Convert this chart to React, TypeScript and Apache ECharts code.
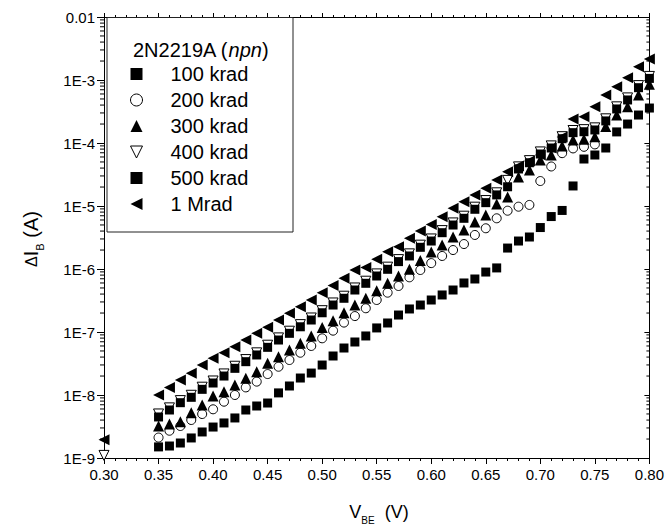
import React, { useEffect, useRef } from 'react';
import * as echarts from 'echarts';

// V_BE (V): first point 0.30, then 0.35 ... 0.80 in 0.01 steps
const vbe = [0.30, 0.35, 0.36, 0.37, 0.38, 0.39, 0.40, 0.41, 0.42, 0.43, 0.44, 0.45, 0.46, 0.47, 0.48, 0.49, 0.50, 0.51, 0.52, 0.53, 0.54, 0.55, 0.56, 0.57, 0.58, 0.59, 0.60, 0.61, 0.62, 0.63, 0.64, 0.65, 0.66, 0.67, 0.68, 0.69, 0.70, 0.71, 0.72, 0.73, 0.74, 0.75, 0.76, 0.77, 0.78, 0.79, 0.80];

const krad100 = [null,
  1.50e-9, 1.55e-9, 1.73e-9, 2.08e-9, 2.59e-9, 3.10e-9, 3.60e-9, 4.32e-9, 5.78e-9, 6.69e-9,
  7.46e-9, 1.08e-8, 1.39e-8, 1.86e-8, 2.23e-8, 2.99e-8, 4.16e-8, 5.57e-8, 6.94e-8, 8.65e-8,
  1.16e-7, 1.39e-7, 1.86e-7, 2.32e-7, 2.68e-7, 3.22e-7, 3.87e-7, 4.64e-7, 6.00e-7, 6.94e-7,
  8.95e-7, 1.04e-6, 2.15e-6, 2.78e-6, 3.22e-6, 4.55e-6, 6.8e-6, 8.5e-6, 2.08e-5, 5.57e-5,
  6.45e-5, 8.33e-5, 1.50e-4, 2.00e-4, 2.78e-4, 3.59e-4];

const krad200 = [null,
  2.11e-9, 2.71e-9, 3.22e-9, 4.01e-9, 4.99e-9, 5.93e-9, 7.83e-9, 1.0e-8, 1.32e-8, 1.63e-8,
  2.15e-8, 2.81e-8, 3.59e-8, 4.69e-8, 6.00e-8, 7.94e-8, 1.05e-7, 1.41e-7, 1.79e-7, 2.38e-7,
  3.22e-7, 4.21e-7, 5.37e-7, 7.38e-7, 9.64e-7, 1.24e-6, 1.61e-6, 2.00e-6, 2.49e-6, 3.47e-6,
  4.43e-6, 6.38e-6, 8.42e-6, 9.75e-6, 1.04e-5, 2.49e-5, 4.24e-5, 6.9e-5, 8.2e-5, 8.7e-5,
  9.5e-5, null, null, null, null, null];

const krad300 = [null,
  3.22e-9, 3.47e-9, 3.77e-9, 5.24e-9, 6.94e-9, 9.64e-9, 1.13e-8, 1.44e-8, 1.84e-8, 2.34e-8,
  3.18e-8, 4.06e-8, 5.18e-8, 6.62e-8, 8.65e-8, 1.18e-7, 1.51e-7, 2.02e-7, 2.68e-7, 3.43e-7,
  4.53e-7, 5.93e-7, 7.74e-7, 9.89e-7, 1.36e-6, 1.86e-6, 2.41e-6, 3.22e-6, 4.16e-6, 5.57e-6,
  7.20e-6, 1.08e-5, 1.39e-5, 2.89e-5, 3.73e-5, 5.37e-5, 6.45e-5, 8.96e-5, 1.12e-4, 1.15e-4,
  1.26e-4, 1.82e-4, 2.78e-4, 3.77e-4, 5.78e-4, 8.55e-4];

const krad400 = [1.1e-9,
  5.0e-9, 6.25e-9, 8.15e-9, 9.9e-9, 1.33e-8, 1.67e-8, 2.16e-8, 2.86e-8, 3.65e-8, 4.67e-8,
  6.17e-8, 8.06e-8, 1.03e-7, 1.31e-7, 1.67e-7, 2.18e-7, 2.89e-7, 3.7e-7, 5.0e-7, 6.4e-7,
  8.36e-7, 1.07e-6, 1.41e-6, 1.74e-6, 2.39e-6, 3.0e-6, 4.07e-6, 5.39e-6, 6.89e-6, 9.58e-6,
  1.22e-5, 1.62e-5, 2.55e-5, 4.18e-5, 5.25e-5, 7.22e-5, 9.0e-5, 1.26e-4, 1.58e-4, 1.63e-4,
  1.74e-4, 2.42e-4, 3.75e-4, 5.2e-4, 8.15e-4, 1.14e-3];

const krad500 = [null,
  4.48e-9, 5.78e-9, 7.55e-9, 9.19e-9, 1.23e-8, 1.55e-8, 2.00e-8, 2.65e-8, 3.38e-8, 4.32e-8,
  5.71e-8, 7.46e-8, 9.53e-8, 1.21e-7, 1.55e-7, 2.02e-7, 2.68e-7, 3.43e-7, 4.64e-7, 5.93e-7,
  7.74e-7, 9.89e-7, 1.31e-6, 1.61e-6, 2.21e-6, 2.78e-6, 3.77e-6, 4.99e-6, 6.38e-6, 8.87e-6,
  1.13e-5, 1.50e-5, 2.02e-5, 3.87e-5, 4.86e-5, 6.69e-5, 8.33e-5, 1.17e-4, 1.46e-4, 1.51e-4,
  1.61e-4, 2.24e-4, 3.47e-4, 4.82e-4, 7.55e-4, 1.06e-3];

const mrad1 = [1.95e-9,
  1.0e-8, 1.31e-8, 1.73e-8, 2.21e-8, 2.99e-8, 3.83e-8, 4.69e-8, 5.85e-8, 7.46e-8, 9.53e-8,
  1.19e-7, 1.55e-7, 1.98e-7, 2.52e-7, 3.22e-7, 4.21e-7, 5.47e-7, 7.11e-7, 9.64e-7, 1.06e-6,
  1.43e-6, 1.88e-6, 2.26e-6, 3.07e-6, 4.01e-6, 5.08e-6, 6.76e-6, 9.19e-6, 1.17e-5, 1.50e-5,
  1.91e-5, 2.59e-5, 3.50e-5, 4.31e-5, 5.18e-5, 6.45e-5, 8.33e-5, 1.24e-4, 2.40e-4, 2.61e-4,
  3.77e-4, 5.78e-4, 7.83e-4, 1.09e-3, 1.63e-3, 2.15e-3];

const seriesNames = ['100 krad', '200 krad', '300 krad', '400 krad', '500 krad', '1 Mrad'];
const legendTitle = '2N2219A';
const legendTitleItalic = 'npn';

const xTickLabels = ['0.30', '0.35', '0.40', '0.45', '0.50', '0.55', '0.60', '0.65', '0.70', '0.75', '0.80'];
const yTickLabels = ['1E-9', '1E-8', '1E-7', '1E-6', '1E-5', '1E-4', '1E-3', '0.01'];
const minorDecades = [-9, -8, -7, -6, -5, -4, -3];
const minorMultipliers = [2, 3, 4, 5, 6, 7, 8, 9];

const X_MIN = 0.30;
const X_MAX = 0.80;
const Y_MIN = 1e-9;
const Y_MAX = 1e-2;

const FONT = '"Liberation Sans", Arial, Helvetica, sans-serif';

const ICON_DOWN = 'path://M0,0 L10,0 L5,10 Z';
const ICON_LEFT = 'path://M10,0 L10,10 L0,5 Z';

function pairs(ys: (number | null)[]) {
  const out: [number, number][] = [];
  ys.forEach((y, i) => {
    if (y != null) out.push([vbe[i], y]);
  });
  return out;
}

export default function App() {
  const ref = useRef<HTMLDivElement>(null);

  useEffect(() => {
    if (!ref.current) return;
    const chart = echarts.init(ref.current, undefined, { renderer: 'svg' });

    const minorData: [number, number][] = [];
    minorDecades.forEach((e) => {
      minorMultipliers.forEach((m) => {
        minorData.push([X_MIN, m * Math.pow(10, e)]);
      });
    });

    const black = '#000';
    const solid = { color: black, opacity: 1 };
    const open = { color: '#fff', borderColor: black, borderWidth: 1, opacity: 1 };
    const scatterBase = { type: 'scatter', z: 3 } as any;

    const xAxisCommon = {
      type: 'value',
      min: X_MIN,
      max: X_MAX,
      interval: 0.05,
      splitLine: { show: false },
      axisLine: { show: true, onZero: false, lineStyle: { color: black, width: 1 } },
    } as any;

    const yAxisCommon = {
      type: 'log',
      logBase: 10,
      min: Y_MIN,
      max: Y_MAX,
      splitLine: { show: false },
      axisLine: { show: true, lineStyle: { color: black, width: 1 } },
    } as any;

    const option: any = {
      animation: false,
      backgroundColor: '#fff',
      grid: { left: 104, right: 17, top: 17, bottom: 72, containLabel: false },
      xAxis: [
        {
          ...xAxisCommon,
          position: 'bottom',
          axisTick: { show: true, inside: false, length: 6, lineStyle: { color: black } },
          minorTick: { show: true, splitNumber: 5, length: 3, lineStyle: { color: black } },
          axisLabel: {
            show: true,
            margin: 9,
            color: black,
            fontFamily: FONT,
            fontSize: 15,
            formatter: (v: number) => xTickLabels[Math.round((v - X_MIN) / 0.05)] ?? '',
          },
        },
        {
          ...xAxisCommon,
          position: 'top',
          axisTick: { show: true, inside: false, length: 4, lineStyle: { color: black } },
          minorTick: { show: true, splitNumber: 5, length: 2, lineStyle: { color: black } },
          axisLabel: { show: false },
        },
      ],
      yAxis: [
        {
          ...yAxisCommon,
          position: 'left',
          axisTick: { show: true, inside: false, length: 7, lineStyle: { color: black } },
          axisLabel: {
            show: true,
            margin: 9,
            color: black,
            fontFamily: FONT,
            fontSize: 15,
            formatter: (v: number) => yTickLabels[Math.round(Math.log10(v)) + 9] ?? '',
          },
        },
        {
          ...yAxisCommon,
          position: 'right',
          axisTick: { show: true, inside: true, length: 5, lineStyle: { color: black } },
          axisLabel: { show: false },
        },
      ],
      legend: {
        show: true,
        orient: 'vertical',
        left: 130,
        top: 64,
        padding: 0,
        itemGap: 6,
        itemWidth: 12,
        itemHeight: 12,
        selectedMode: false,
        data: [
          { name: seriesNames[0], icon: 'rect', itemStyle: solid },
          { name: seriesNames[1], icon: 'circle', itemStyle: open },
          { name: seriesNames[2], icon: 'triangle', itemStyle: solid },
          { name: seriesNames[3], icon: ICON_DOWN, itemStyle: open },
          { name: seriesNames[4], icon: 'rect', itemStyle: solid },
          { name: seriesNames[5], icon: ICON_LEFT, itemStyle: solid },
        ],
        textStyle: {
          color: black,
          fontFamily: FONT,
          fontSize: 20,
          lineHeight: 20,
          padding: [0, 0, 0, 23],
        },
      },
      graphic: [
        {
          type: 'rect',
          z: 1,
          shape: { x: 107, y: 17.5, width: 186, height: 214.5 },
          style: { fill: 'none', stroke: '#222', lineWidth: 1 },
        },
        {
          type: 'text',
          x: 133,
          y: 50,
          style: {
            text: legendTitle + ' ({i|' + legendTitleItalic + '})',
            fontFamily: FONT,
            fontSize: 20,
            fill: black,
            align: 'left',
            verticalAlign: 'middle',
            rich: {
              i: { fontFamily: FONT, fontSize: 20, fontStyle: 'italic', fill: black },
            },
          },
        },
        {
          type: 'text',
          x: 379,
          y: 512,
          style: {
            text: '{m|V}{s|BE}{m|  (V)}',
            fill: black,
            align: 'center',
            verticalAlign: 'middle',
            rich: {
              m: { fontFamily: FONT, fontSize: 18, lineHeight: 26, fill: black },
              s: { fontFamily: FONT, fontSize: 10, lineHeight: 12, verticalAlign: 'bottom', fill: black },
            },
          },
        },
        {
          type: 'text',
          x: 31,
          y: 239,
          rotation: Math.PI / 2,
          style: {
            text: '{d|Δ}{m|I}{s|B}{m| (A)}',
            fill: black,
            align: 'center',
            verticalAlign: 'middle',
            rich: {
              d: { fontFamily: FONT, fontSize: 16, lineHeight: 28, fill: black },
              m: { fontFamily: FONT, fontSize: 20, lineHeight: 28, fill: black },
              s: { fontFamily: FONT, fontSize: 11, lineHeight: 13, verticalAlign: 'bottom', fill: black },
            },
          },
        },
      ],
      series: [
        {
          ...scatterBase,
          name: seriesNames[0],
          symbol: 'rect',
          symbolSize: 9,
          itemStyle: solid,
          data: pairs(krad100),
        },
        {
          ...scatterBase,
          name: seriesNames[1],
          symbol: 'circle',
          symbolSize: 9,
          itemStyle: open,
          data: pairs(krad200),
        },
        {
          ...scatterBase,
          name: seriesNames[2],
          symbol: 'triangle',
          symbolSize: 11,
          itemStyle: solid,
          data: pairs(krad300),
        },
        {
          ...scatterBase,
          name: seriesNames[3],
          symbol: 'triangle',
          symbolRotate: 180,
          symbolSize: 10,
          itemStyle: open,
          data: pairs(krad400),
        },
        {
          ...scatterBase,
          name: seriesNames[4],
          symbol: 'rect',
          symbolSize: 9,
          itemStyle: solid,
          data: pairs(krad500),
        },
        {
          ...scatterBase,
          name: seriesNames[5],
          symbol: 'triangle',
          symbolRotate: 90,
          symbolSize: 11,
          itemStyle: solid,
          data: pairs(mrad1),
        },
        {
          type: 'custom',
          name: 'minor-ticks',
          silent: true,
          clip: false,
          z: 1,
          data: minorData,
          renderItem: (params: any, api: any) => {
            const v = api.value(1);
            const pl = api.coord([X_MIN, v]);
            const pr = api.coord([X_MAX, v]);
            return {
              type: 'group',
              children: [
                {
                  type: 'line',
                  shape: { x1: pl[0] - 4, y1: pl[1], x2: pl[0], y2: pl[1] },
                  style: { stroke: black, lineWidth: 1 },
                },
                {
                  type: 'line',
                  shape: { x1: pr[0] - 3, y1: pr[1], x2: pr[0], y2: pr[1] },
                  style: { stroke: black, lineWidth: 1 },
                },
              ],
            };
          },
        },
      ],
    };

    chart.setOption(option);
    return () => {
      chart.dispose();
    };
  }, []);

  return (
    <div
      ref={ref}
      style={{ position: 'absolute', left: 0, top: 0, width: 667, height: 530 }}
    />
  );
}
